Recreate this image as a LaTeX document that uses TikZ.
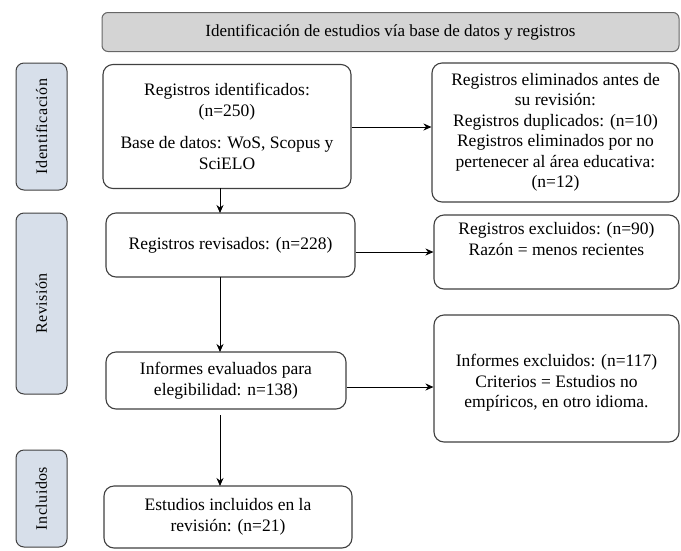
\documentclass[tikz,border=0pt]{standalone}
\usepackage{fontspec}
\setmainfont{Liberation Serif}
\usetikzlibrary{arrows.meta}
\definecolor{hdrfill}{HTML}{D4D4D4}
\definecolor{sidefill}{HTML}{D7DFEA}
\definecolor{bordc}{HTML}{404040}
\tikzset{
  box/.style={draw=bordc, line width=1.1pt, rounded corners=10pt, fill=white, align=center, inner sep=2pt,
    font=\fontsize{17.5}{20.5}\selectfont},
  hdr/.style={draw=gray!80!black, line width=1pt, rounded corners=6pt, fill=hdrfill, font=\fontsize{17}{20}\selectfont},
  side/.style={draw=gray!50!black, line width=1pt, rounded corners=8pt, fill=sidefill},
  sidetxt/.style={rotate=90, font=\fontsize{16}{18}\selectfont\addfontfeatures{LetterSpace=3}},
  arr/.style={draw=black, line width=0.9pt, -{Stealth[length=8pt,width=7pt]}}
}
\begin{document}
\begin{tikzpicture}[x=1pt,y=-1pt]
\useasboundingbox (0,0) rectangle (681,550);
% header
\node[hdr, minimum width=577pt, minimum height=39pt] (hdr) at (390.5,32) {Identificación de estudios vía base de datos y registros};
% side labels
\node[side, minimum width=51pt, minimum height=127pt] (s1) at (41.5,126.5) {};
\node[sidetxt] (s1t) at (s1.center) {Identificación};
\node[side, minimum width=51pt, minimum height=181pt] (s2) at (41.5,303.5) {};
\node[sidetxt] (s2t) at (s2.center) {Revisión};
\node[side, minimum width=51pt, minimum height=97pt] (s3) at (41.5,498.5) {};
\node[sidetxt] (s3t) at (s3.center) {Incluidos};
% main boxes
\node[box, minimum width=248pt, minimum height=124pt] (b1) at (227,126.5)
  {Registros identificados:\\(n=250)\\[12pt]Base de datos: WoS, Scopus y\\SciELO};
\node[box, minimum width=249pt, minimum height=64pt] (b2) at (230.5,245) {Registros revisados: (n=228)};
\node[box, minimum width=240pt, minimum height=57pt] (b3) at (226,380.5) {Informes evaluados para\\elegibilidad: n=138)};
\node[box, minimum width=248pt, minimum height=62pt] (b4) at (228,517) {Estudios incluidos en la\\revisión: (n=21)};
% right boxes
\node[box, minimum width=247pt, minimum height=139pt] (r1) at (555.5,132.5)
  {Registros eliminados antes de\\su revisión:\\Registros duplicados: (n=10)\\Registros eliminados por no\\pertenecer al área educativa:\\(n=12)};
\node[box, minimum width=245pt, minimum height=74pt, text depth=26pt] (r2) at (556.5,252)
  {Registros excluidos: (n=90)\\Razón = menos recientes};
\node[box, minimum width=245pt, minimum height=127pt, text height=63pt, text depth=5pt] (r3) at (556.5,378.5)
  {Informes excluidos: (n=117)\\Criterios = Estudios no\\empíricos, en otro idioma.};
% connector points
\coordinate (v1a) at (220,188);
\coordinate (v1b) at (220,213);
\coordinate (v2a) at (220,277);
\coordinate (v2b) at (220,352);
\coordinate (v3a) at (220,415);
\coordinate (v3b) at (220,486);
\draw[arr] (v1a) -- (v1b);
\draw[arr] (v2a) -- (v2b);
\draw[arr] (v3a) -- (v3b);
\draw[arr] (b1.east |- 0,127) -- (r1.west |- 0,127);
\draw[arr] (b2.east |- 0,252) -- (r2.west |- 0,252);
\draw[arr] (b3.east |- 0,387) -- (r3.west |- 0,387);
\end{tikzpicture}
\end{document}
